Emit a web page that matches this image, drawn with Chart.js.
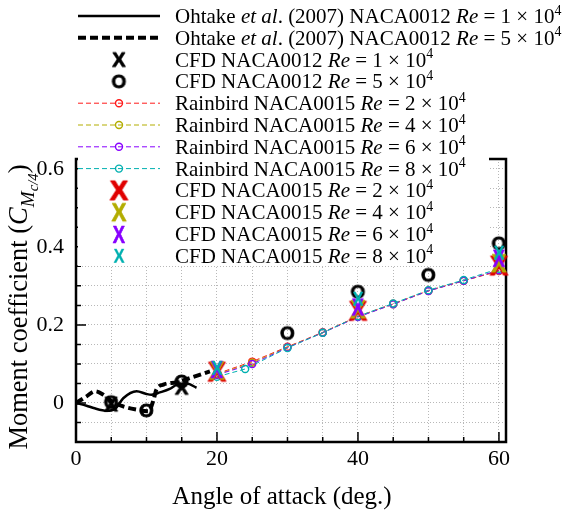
<!DOCTYPE html>
<html>
<head>
<meta charset="utf-8">
<script src="https://cdn.jsdelivr.net/npm/chart.js@4.4.0/dist/chart.umd.min.js"></script>
<style>
  html, body { margin: 0; padding: 0; background: #fff; }
</style>
</head>
<body>
<canvas id="c" width="565" height="511"></canvas>
<script>
// Ohtake et al. (2007), NACA0012
const ohtakeRe1Aoa = [0, 1.5, 2.5, 4.4, 5.6, 6.7, 8.6, 10.0, 10.7, 11.9, 13.3, 14.3, 15.7, 17.1];
const ohtakeRe1Cm  = [0, -0.007, -0.013, -0.020, -0.014, 0.012, 0.030, 0.023, 0.021, 0.027, 0.036, 0.047, 0.050, 0.039];
const ohtakeRe5Aoa = [0, 1.5, 2.7, 3.9, 5.1, 6.7, 8.6, 10.3, 11.0, 11.4, 12.4, 14.3, 16.2, 19.0];
const ohtakeRe5Cm  = [0, 0.017, 0.030, 0.021, 0.004, -0.009, -0.017, -0.021, 0.008, 0.034, 0.047, 0.053, 0.064, 0.081];

// CFD NACA0012
const cfd12Re1Aoa = [5, 15];
const cfd12Re1Cm  = [-0.003, 0.040];
const cfd12Re5Aoa = [5, 10, 15, 30, 40, 50, 60];
const cfd12Re5Cm  = [0.002, -0.019, 0.055, 0.179, 0.285, 0.328, 0.409];

// Rainbird NACA0015
const rainbirdAoa   = [20, 25, 30, 35, 40, 45, 50, 55, 60];
const rainbirdRe2Cm = [0.075, 0.106, 0.144, 0.181, 0.222, 0.254, 0.288, 0.313, 0.338];
const rainbirdRe4Cm = [0.073, 0.103, 0.143, 0.180, 0.221, 0.253, 0.287, 0.313, 0.339];
const rainbirdRe6Cm = [0.072, 0.100, 0.142, 0.180, 0.220, 0.253, 0.287, 0.313, 0.340];
const rainbirdRe8Aoa = [20, 24, 30, 35, 40, 45, 50, 55, 60];
const rainbirdRe8Cm = [0.067, 0.087, 0.141, 0.180, 0.222, 0.255, 0.289, 0.315, 0.344];

// CFD NACA0015
const cfd15Aoa   = [20, 40, 60];
const cfd15Re2Cm = [0.080, 0.236, 0.352];
const cfd15Re4Cm = [0.083, 0.240, 0.358];
const cfd15Re6Cm = [0.087, 0.247, 0.372];
const cfd15Re8Cm = [0.090, 0.267, 0.385];

const yTickLabels = ['0', '0.2', '0.4', '0.6'];
const xTickLabels = ['0', '20', '40', '60'];

const SERIF = '"Liberation Serif", "Times New Roman", serif';
const SANS = '"Liberation Sans", Arial, sans-serif';
const RED = '#e00000', OLIVE = '#b3ad00', PURPLE = '#8800ff', CYAN = '#00b0b0';

const pts = (xs, ys) => xs.map((x, i) => ({ x: x, y: ys[i] }));

// bold letter used as a marker
function glyph(ch, size, color, sx, stroke) {
  const w = Math.ceil(size * 1.2), h = Math.ceil(size * 1.2);
  const c = document.createElement('canvas');
  c.width = w; c.height = h;
  const g = c.getContext('2d');
  g.font = 'bold ' + size + 'px ' + SANS;
  const m = g.measureText(ch);
  const asc = m.actualBoundingBoxAscent, desc = m.actualBoundingBoxDescent;
  g.translate(w / 2, h / 2);
  g.scale(sx, 1);
  g.fillStyle = color;
  g.textAlign = 'center';
  g.textBaseline = 'alphabetic';
  const by = (asc - desc) / 2;
  g.fillText(ch, 0, by);
  if (stroke) {
    g.strokeStyle = color; g.lineWidth = stroke; g.lineJoin = 'round';
    g.strokeText(ch, 0, by);
  }
  return c;
}

const gX = glyph('X', 20, '#000', 1, 0.8);
const gO = glyph('O', 19, '#000', 1.0, 0.8);
const gRed = glyph('X', 27, RED, 1.0, 1.2);
const gOlive = glyph('X', 25, OLIVE, 0.9, 0.6);
const gPurple = glyph('X', 23, PURPLE, 0.8, 0.5);
const gCyan = glyph('X', 21, CYAN, 0.8, 0.2);

function ohtake(label, xs, ys, width, dash, order) {
  return { label, data: pts(xs, ys), showLine: true, borderColor: '#000', borderWidth: width,
    borderDash: dash, pointRadius: 0, cubicInterpolationMode: 'monotone', clip: false, order,
    legendKind: 'line' };
}
function rainbird(label, xs, ys, color, order) {
  return { label, data: pts(xs, ys), showLine: true, borderColor: color, borderWidth: 1,
    borderDash: [5, 3], pointStyle: 'circle', pointRadius: 3.5, pointBorderWidth: 1.4,
    pointBorderColor: color, pointBackgroundColor: 'rgba(0,0,0,0)', clip: false, order,
    legendKind: 'linepoint' };
}
function cfd(label, xs, ys, g, order) {
  return { label, data: pts(xs, ys), showLine: false, pointStyle: g, pointRadius: 6,
    clip: false, order, legendKind: 'point' };
}

const datasets = [
  ohtake('Ohtake et al. (2007) NACA0012 Re = 1 × 10^4', ohtakeRe1Aoa, ohtakeRe1Cm, 2.5, [], 11),
  ohtake('Ohtake et al. (2007) NACA0012 Re = 5 × 10^4', ohtakeRe5Aoa, ohtakeRe5Cm, 4, [8, 4], 10),
  cfd('CFD NACA0012 Re = 1 × 10^4', cfd12Re1Aoa, cfd12Re1Cm, gX, 4),
  cfd('CFD NACA0012 Re = 5 × 10^4', cfd12Re5Aoa, cfd12Re5Cm, gO, 5),
  rainbird('Rainbird NACA0015 Re = 2 × 10^4', rainbirdAoa, rainbirdRe2Cm, '#ff1a1a', 9),
  rainbird('Rainbird NACA0015 Re = 4 × 10^4', rainbirdAoa, rainbirdRe4Cm, OLIVE, 8),
  rainbird('Rainbird NACA0015 Re = 6 × 10^4', rainbirdAoa, rainbirdRe6Cm, PURPLE, 7),
  rainbird('Rainbird NACA0015 Re = 8 × 10^4', rainbirdRe8Aoa, rainbirdRe8Cm, CYAN, 6),
  cfd('CFD NACA0015 Re = 2 × 10^4', cfd15Aoa, cfd15Re2Cm, gRed, 3),
  cfd('CFD NACA0015 Re = 4 × 10^4', cfd15Aoa, cfd15Re4Cm, gOlive, 2),
  cfd('CFD NACA0015 Re = 6 × 10^4', cfd15Aoa, cfd15Re6Cm, gPurple, 1),
  cfd('CFD NACA0015 Re = 8 × 10^4', cfd15Aoa, cfd15Re8Cm, gCyan, 0)
];

// split a label into plain / italic / superscript pieces
function richParts(label) {
  return label.split(/(et al|Re|\^4)/).filter(s => s).map(s => {
    if (s === 'et al' || s === 'Re') return { t: s, s: 'i' };
    if (s === '^4') return { t: '4', s: 'sup' };
    return { t: s, s: 'n' };
  });
}

function drawRich(ctx, parts, x, y, size, measureOnly) {
  let cx = x;
  for (const p of parts) {
    let fs = size, dy = 0, it = false;
    if (p.s === 'i') it = true;
    if (p.s === 'sup') { fs = size * 0.66; dy = -size * 0.4; }
    if (p.s === 'sub') { fs = size * 0.72; dy = size * 0.25; it = true; }
    if (p.s === 'sub2') { fs = size * 0.56; dy = size * 0.42; it = true; }
    ctx.font = (it ? 'italic ' : '') + fs + 'px ' + SERIF;
    if (!measureOnly) ctx.fillText(p.t, cx, y + dy);
    cx += ctx.measureText(p.t).width;
  }
  return cx - x;
}

const decor = {
  id: 'decor',
  beforeDatasetsDraw(chart) {
    const { ctx, chartArea: a, scales: { x, y } } = chart;
    ctx.save();
    ctx.strokeStyle = '#000';
    ctx.lineWidth = 1.5;
    ctx.beginPath();
    for (let v = 0; v <= 60; v += 5) {
      const px = x.getPixelForValue(v), len = v % 20 === 0 ? 10 : 5;
      ctx.moveTo(px, a.bottom); ctx.lineTo(px, a.bottom - len);
    }
    for (let i = -2; i <= 12; i++) {
      const py = y.getPixelForValue(i * 0.05), len = i % 4 === 0 ? 10 : 5;
      ctx.moveTo(a.left, py); ctx.lineTo(a.left + len, py);
    }
    ctx.stroke();
    ctx.lineWidth = 2.5;
    ctx.strokeRect(a.left, a.top, a.right - a.left, a.bottom - a.top);
    ctx.restore();
  },
  afterDraw(chart) {
    const { ctx, chartArea: a } = chart;
    ctx.save();
    // legend box
    ctx.fillStyle = '#fff';
    ctx.fillRect(a.left + 2, 0, 489 - a.left - 2, 266);
    const x0 = 78, x1 = 160, xm = 119, tx = 175, fs = 21;
    chart.data.datasets.forEach((ds, i) => {
      const ry = 16 + i * 21.8;
      if (ds.legendKind === 'line' || ds.legendKind === 'linepoint') {
        ctx.save();
        ctx.strokeStyle = ds.borderColor;
        ctx.lineWidth = ds.borderWidth;
        ctx.setLineDash(ds.borderDash);
        ctx.beginPath(); ctx.moveTo(x0, ry); ctx.lineTo(x1, ry); ctx.stroke();
        ctx.restore();
      }
      if (ds.legendKind === 'linepoint') {
        ctx.save();
        ctx.strokeStyle = ds.pointBorderColor; ctx.lineWidth = ds.pointBorderWidth;
        ctx.beginPath(); ctx.arc(xm, ry, ds.pointRadius, 0, Math.PI * 2); ctx.stroke();
        ctx.restore();
      }
      if (ds.legendKind === 'point') {
        const g = ds.pointStyle;
        ctx.drawImage(g, xm - g.width / 2, ry - g.height / 2);
      }
      ctx.fillStyle = '#000';
      ctx.textBaseline = 'alphabetic';
      ctx.textAlign = 'left';
      drawRich(ctx, richParts(ds.label), tx, ry + 7, fs);
    });
    // x title
    const xt = [{ t: 'Angle of attack (deg.)', s: 'n' }];
    const xw = drawRich(ctx, xt, 0, 0, 25, true);
    drawRich(ctx, xt, (a.left + a.right) / 2 - xw / 2 - 9, 504, 25);
    // y title
    const yt = [{ t: 'Moment coefficient (', s: 'n' }, { t: 'C', s: 'i' }, { t: 'M', s: 'sub' },
                { t: 'c/4', s: 'sub2' }, { t: ')', s: 'n' }];
    const yw = drawRich(ctx, yt, 0, 0, 26.5, true);
    ctx.translate(27, 307);
    ctx.rotate(-Math.PI / 2);
    drawRich(ctx, yt, -yw / 2, 0, 26.5);
    ctx.restore();
  }
};

const isMult = (v, s) => Math.abs(v / s - Math.round(v / s)) < 1e-6;

new Chart(document.getElementById('c'), {
  type: 'scatter',
  data: { datasets },
  options: {
    responsive: false,
    animation: false,
    devicePixelRatio: 1,
    layout: { padding: { top: 159, right: 59, left: 0, bottom: 0 } },
    plugins: { legend: { display: false }, tooltip: { enabled: false } },
    scales: {
      x: {
        type: 'linear', min: 0, max: 61,
        afterFit: s => { s.height = 69; },
        grid: { color: '#b8b8b8', lineWidth: 1, drawTicks: false },
        border: { display: false, dash: [1, 2] },
        ticks: {
          stepSize: 5, includeBounds: false, autoSkip: false, maxRotation: 0, padding: 4,
          color: '#000', font: { family: SERIF, size: 22 },
          callback: v => isMult(v, 20) ? xTickLabels[Math.round(v / 20)] : ''
        }
      },
      y: {
        type: 'linear', min: -0.1, max: 0.625,
        afterFit: s => { s.width = 76; },
        grid: { color: '#b8b8b8', lineWidth: 1, drawTicks: false },
        border: { display: false, dash: [1, 2] },
        ticks: {
          stepSize: 0.05, includeBounds: false, autoSkip: false, padding: 12,
          color: '#000', font: { family: SERIF, size: 22 },
          callback: v => (v > -0.01 && isMult(v, 0.2)) ? yTickLabels[Math.round(v / 0.2)] : ''
        }
      }
    }
  },
  plugins: [decor]
});
</script>
</body>
</html>
